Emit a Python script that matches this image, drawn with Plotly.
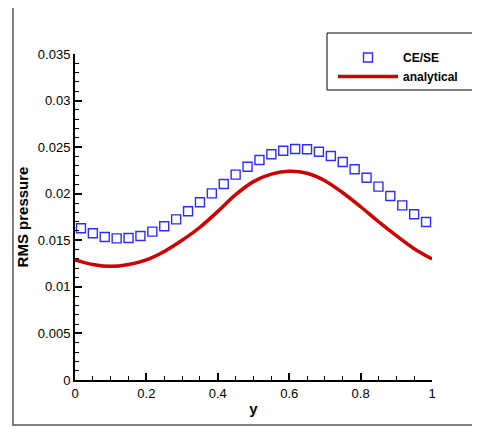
import plotly.graph_objects as go

# CE/SE numerical results
ce_x = [0.0167, 0.05, 0.0833, 0.1167, 0.15, 0.1833, 0.2167, 0.25, 0.2833, 0.3167,
        0.35, 0.3833, 0.4167, 0.45, 0.4833, 0.5167, 0.55, 0.5833, 0.6167, 0.65,
        0.6833, 0.7167, 0.75, 0.7833, 0.8167, 0.85, 0.8833, 0.9167, 0.95, 0.9833]
ce_y = [0.01629, 0.01575, 0.01535, 0.01521, 0.01525, 0.01546, 0.01593, 0.0165, 0.01725, 0.01811,
        0.01908, 0.02004, 0.02104, 0.02205, 0.0229, 0.02362, 0.02423, 0.02462, 0.0248, 0.02477,
        0.02451, 0.02405, 0.02341, 0.02262, 0.02172, 0.02076, 0.01976, 0.01875, 0.01779, 0.01696]

# analytical curve
an_x = [0.0, 0.05, 0.1, 0.15, 0.2, 0.25, 0.3, 0.35, 0.4, 0.45, 0.5,
        0.55, 0.6, 0.65, 0.7, 0.75, 0.8, 0.85, 0.9, 0.95, 1.0]
an_y = [0.0129, 0.0124, 0.0122, 0.0124, 0.0129, 0.0138, 0.0150, 0.0164, 0.0181, 0.0199, 0.0213,
        0.0221, 0.0224, 0.0222, 0.0214, 0.0201, 0.0186, 0.0170, 0.0155, 0.0141, 0.0130]

x_ticks = [0, 0.2, 0.4, 0.6, 0.8, 1]
x_labels = ["0", "0.2", "0.4", "0.6", "0.8", "1"]
y_ticks = [0, 0.005, 0.01, 0.015, 0.02, 0.025, 0.03, 0.035]
y_labels = ["0", "0.005", "0.01", "0.015", "0.02", "0.025", "0.03", "0.035"]

FONT = "Liberation Sans, Arial, Helvetica, sans-serif"

fig = go.Figure()
fig.add_trace(go.Scatter(
    x=ce_x, y=ce_y, mode="markers", name="<b>CE/SE</b>",
    marker=dict(symbol="square-open", size=9, color="rgb(45,45,255)", line=dict(width=1.4)),
))
fig.add_trace(go.Scatter(
    x=an_x, y=an_y, mode="lines", name="<b>analytical</b>", line_shape="spline",
    line=dict(color="#cc0000", width=3.5),
))

axis_common = dict(
    showgrid=False, zeroline=False, showline=True, linecolor="black", linewidth=2,
    ticks="inside", ticklen=7, tickwidth=1.5, tickcolor="black",
    tickfont=dict(family=FONT, size=13, color="black"),
    mirror=False,
)

# outer frame (left, top, bottom edges only; right edge lies off-canvas)
frame_path = "M 1.16,1.1549 L -0.1737,1.1549 L -0.1737,-0.138 L 1.16,-0.138"

fig.update_layout(
    width=472, height=422,
    margin=dict(l=67, r=48, t=46, b=50, autoexpand=False),
    paper_bgcolor="white", plot_bgcolor="white",
    font=dict(family=FONT, color="black"),
    showlegend=True,
    legend=dict(
        x=0.7227, xanchor="left", y=1.0337, yanchor="top",
        borderwidth=0, bgcolor="rgba(0,0,0,0)",
        font=dict(family=FONT, size=12, color="black"),
        itemwidth=60, tracegroupgap=0,
    ),
    xaxis=dict(
        range=[0, 1], tickvals=x_ticks, ticktext=x_labels,
        minor=dict(dtick=0.05, ticks="inside", ticklen=4, tickwidth=1, tickcolor="black"),
        title=dict(text="<b>y</b>", font=dict(family=FONT, size=15), standoff=4),
        **axis_common,
    ),
    yaxis=dict(
        range=[0, 0.035], tickvals=y_ticks, ticktext=y_labels,
        minor=dict(dtick=0.001, ticks="inside", ticklen=4, tickwidth=1, tickcolor="black"),
        title=dict(text="<b>RMS pressure</b>", font=dict(family=FONT, size=15), standoff=6),
        **axis_common,
    ),
    shapes=[
        dict(type="path", xref="paper", yref="paper", path=frame_path,
             line=dict(color="#555555", width=1.5), layer="below"),
        dict(type="rect", xref="paper", yref="paper",
             x0=0.7059, x1=1.1232, y0=0.8896, y1=1.0644,
             line=dict(color="black", width=1), fillcolor="white", layer="below"),
    ],
)

fig.write_html(
    "out.html",
    post_script="document.documentElement.style.overflow='hidden';document.body.style.overflow='hidden';",
)
